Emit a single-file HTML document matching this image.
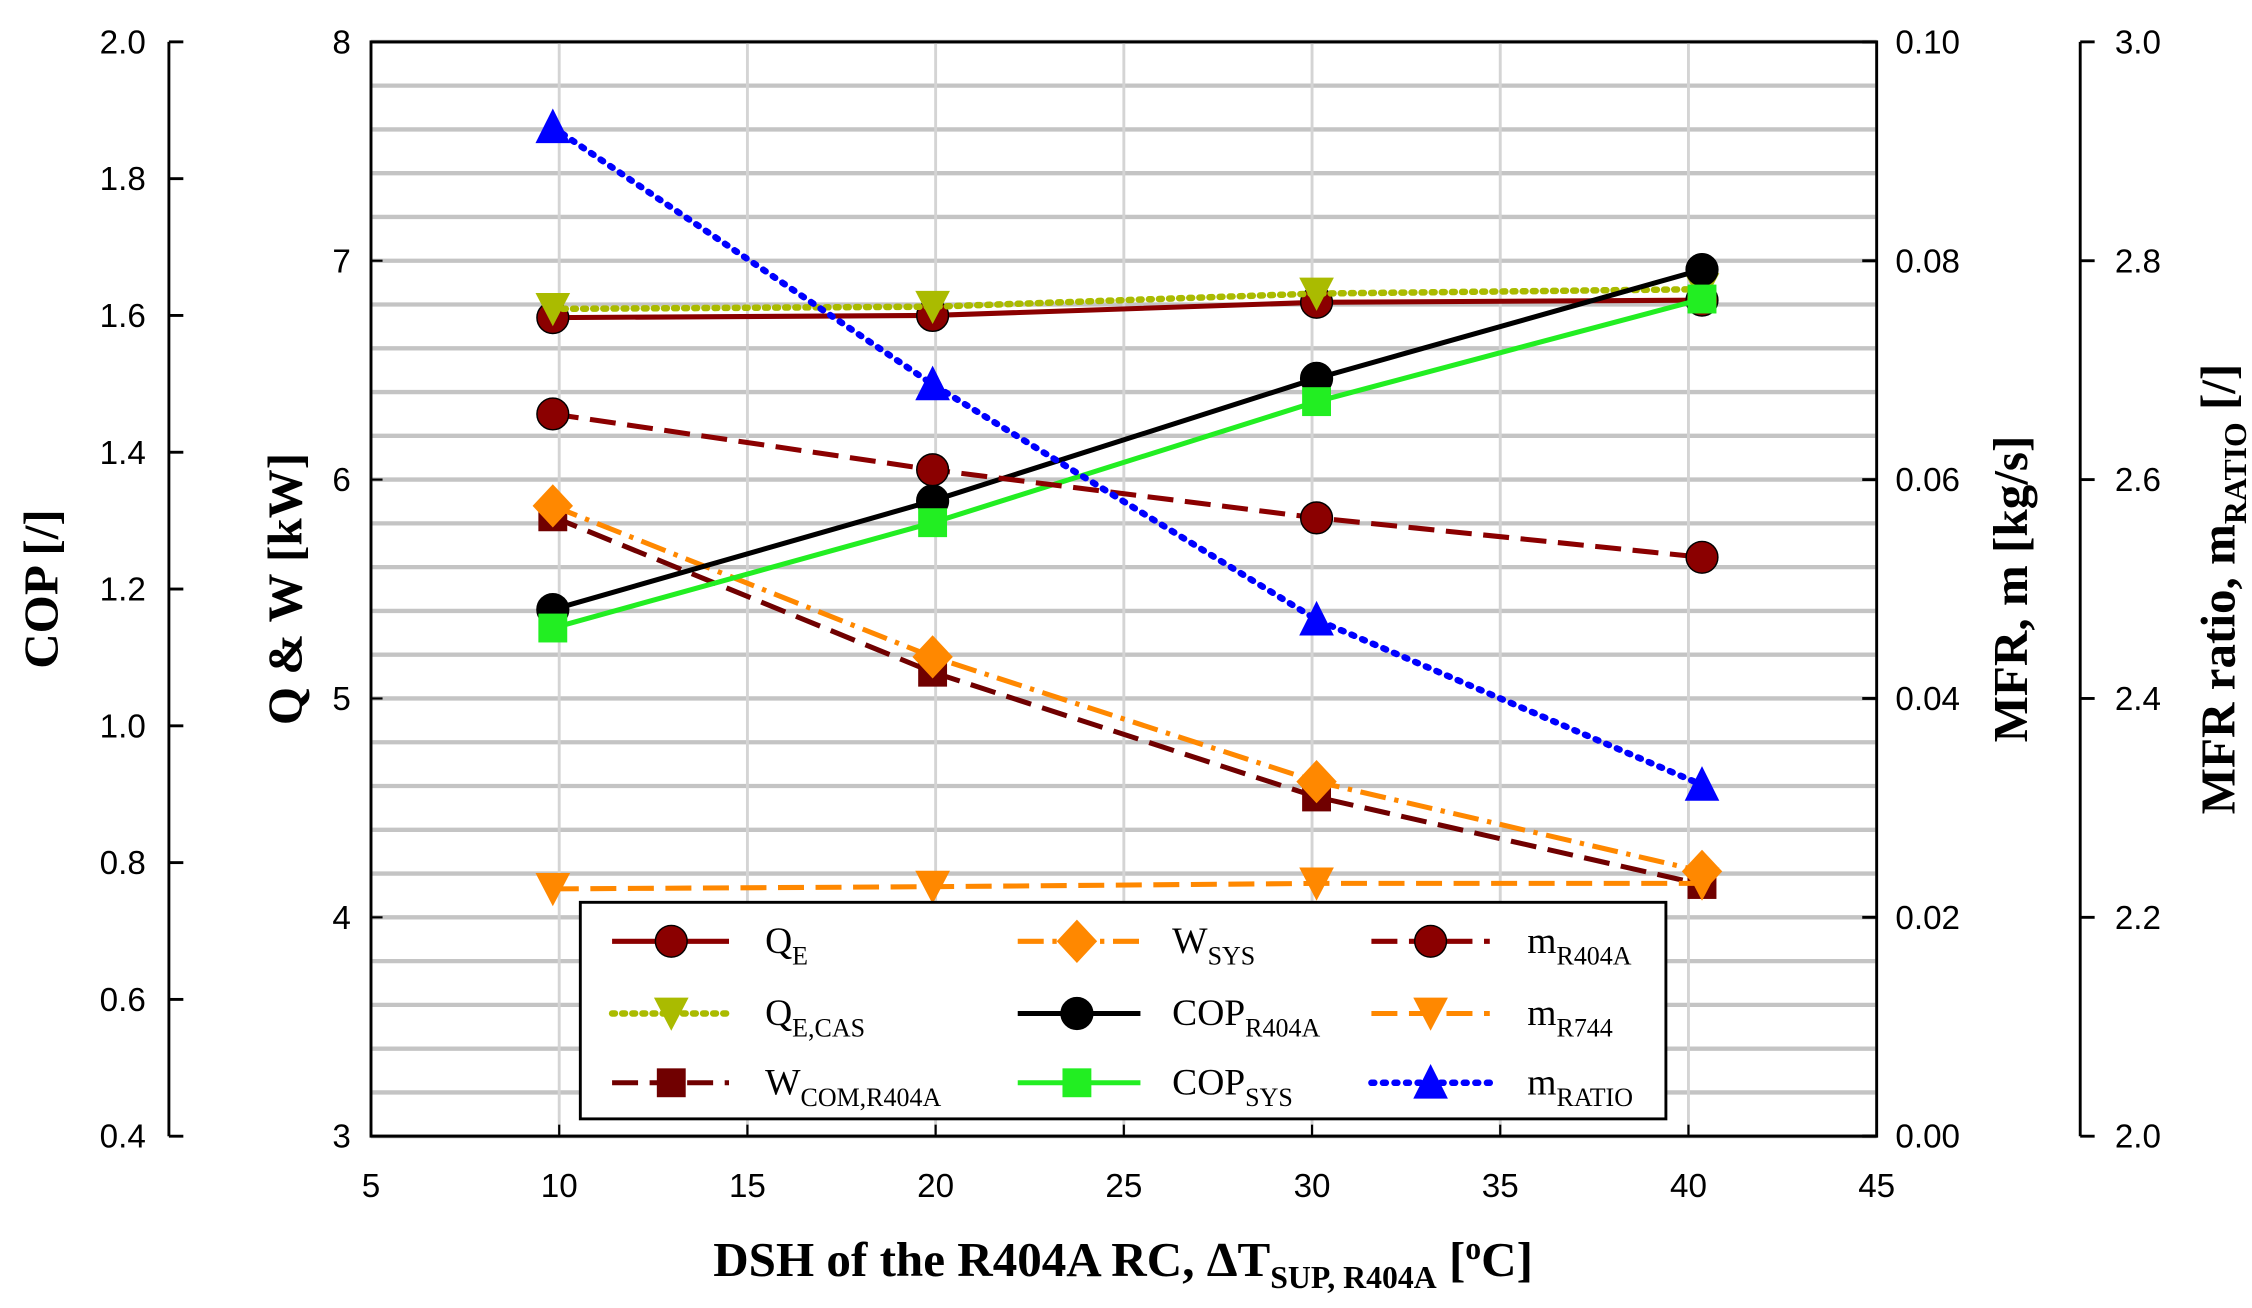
<!DOCTYPE html>
<html><head><meta charset="utf-8"><style>
html,body{margin:0;padding:0;background:#fff}
svg{display:block}
.t{font-family:"Liberation Sans",sans-serif;font-size:23px;fill:#000}
.ti{font-family:"Liberation Serif",serif;font-size:34px;font-weight:bold;fill:#000}
.lg{font-family:"Liberation Serif",serif;font-size:26px;fill:#000}
</style></head><body>
<svg id="c" width="2252" height="1308" viewBox="0 0 1560 906" preserveAspectRatio="none" xmlns="http://www.w3.org/2000/svg">
<g id="grid"></g>
<g id="axes"></g>
<g id="series"></g>
<g id="legend"></g>
</svg>
<script>
const xVals=[9.83,19.92,30.12,40.36];
const qE=[6.74,6.75,6.81,6.82];
const qECas=[6.78,6.79,6.85,6.87];
const wCom=[5.83,5.12,4.55,4.15];
const wSys=[5.88,5.19,4.62,4.21];
const copR404a=[1.170,1.329,1.508,1.667];
const copSys=[1.143,1.297,1.474,1.624];
const mR404a=[0.0660,0.0609,0.0565,0.0529];
const mR744=[0.0226,0.0228,0.0231,0.0231];
const mRatio=[2.922,2.687,2.472,2.321];
const xTicks=[5,10,15,20,25,30,35,40,45];
const qTicks=[3,4,5,6,7,8];
const copTicks=[0.4,0.6,0.8,1.0,1.2,1.4,1.6,1.8,2.0];
const mfrTicks=[0,0.02,0.04,0.06,0.08,0.10];
const ratioTicks=[2.0,2.2,2.4,2.6,2.8,3.0];

const L=257,R=1300,T=29,B=787;
const sx=v=>L+(v-5)/40*(R-L);
const lin=(a,b)=>v=>B-(v-a)/(b-a)*(B-T);
const yQ=lin(3,8),yC=lin(0.4,2.0),yM=lin(0,0.1),yR=lin(2,3);
const NS='http://www.w3.org/2000/svg';
function mk(p,tag,at,txt){const e=document.createElementNS(NS,tag);for(const k in at)e.setAttribute(k,at[k]);if(txt!==undefined)e.textContent=txt;p.appendChild(e);return e;}
const G=document.getElementById('grid'),A=document.getElementById('axes'),S=document.getElementById('series'),LG=document.getElementById('legend');
for(let v=3;v<=8.001;v+=0.2){const y=yQ(v);const l=mk(G,'line',{x1:L,x2:R,y1:y,y2:y,stroke:'#c4c4c4','stroke-width':3});

}
xTicks.forEach(v=>{const l=mk(G,'line',{x1:sx(v),x2:sx(v),y1:T,y2:B,stroke:'#d4d4d4','stroke-width':2});

});
mk(A,'rect',{x:L,y:T,width:R-L,height:B-T,fill:'none',stroke:'#000','stroke-width':2});
xTicks.forEach(v=>{mk(A,'line',{x1:sx(v),x2:sx(v),y1:B,y2:B-8,stroke:'#000','stroke-width':1.5});
const t=mk(A,'text',{x:sx(v),y:B+42,'text-anchor':'middle',class:'t'},String(v));

});
qTicks.forEach(v=>{mk(A,'line',{x1:L,x2:L+8,y1:yQ(v),y2:yQ(v),stroke:'#000','stroke-width':1.5});
const t=mk(A,'text',{x:L-14,y:yQ(v)+8,'text-anchor':'end',class:'t'},String(v));

});
mk(A,'line',{x1:117,x2:117,y1:T,y2:B,stroke:'#000','stroke-width':2});
copTicks.forEach(v=>{mk(A,'line',{x1:117,x2:127,y1:yC(v),y2:yC(v),stroke:'#000','stroke-width':2});
const t=mk(A,'text',{x:101,y:yC(v)+8,'text-anchor':'end',class:'t'},v.toFixed(1));

});
mfrTicks.forEach(v=>{mk(A,'line',{x1:R,x2:R-10,y1:yM(v),y2:yM(v),stroke:'#000','stroke-width':2});
const t=mk(A,'text',{x:1313,y:yM(v)+8,class:'t'},v.toFixed(2));

});
mk(A,'line',{x1:1441,x2:1441,y1:T,y2:B,stroke:'#000','stroke-width':2});
ratioTicks.forEach(v=>{mk(A,'line',{x1:1441,x2:1451,y1:yR(v),y2:yR(v),stroke:'#000','stroke-width':2});
const t=mk(A,'text',{x:1465,y:yR(v)+8,class:'t'},v.toFixed(1));

});
let t;
t=mk(A,'text',{x:40,y:408,'text-anchor':'middle',class:'ti',transform:'rotate(-90 40 408)'},'COP [/]');

t=mk(A,'text',{x:209,y:408,'text-anchor':'middle',class:'ti',transform:'rotate(-90 209 408)'},'Q & W [kW]');

t=mk(A,'text',{x:1404,y:408,'text-anchor':'middle',class:'ti',transform:'rotate(-90 1404 408)'},'MFR, m [kg/s]');

t=mk(A,'text',{x:1548,y:408,'text-anchor':'middle',class:'ti',transform:'rotate(-90 1548 408)'});
t.innerHTML='MFR ratio, m<tspan font-size="22" dy="8">RATIO</tspan><tspan dy="-8"> [/]</tspan>';

t=mk(A,'text',{x:778,y:884,'text-anchor':'middle',class:'ti'});
t.innerHTML='DSH of the R404A RC, ΔT<tspan font-size="22" dy="8">SUP, R404A</tspan><tspan dy="-8"> [</tspan><tspan font-size="22" dy="-12">o</tspan><tspan dy="12">C]</tspan>';


function marker(p,type,x,y,col){
 if(type==='c')return mk(p,'circle',{cx:x,cy:y,r:11,fill:col,stroke:'#000','stroke-width':1});
 if(type==='s')return mk(p,'rect',{x:x-10,y:y-10,width:20,height:20,fill:col});
 if(type==='d')return mk(p,'polygon',{points:`${x},${y-15} ${x+14},${y} ${x},${y+15} ${x-14},${y}`,fill:col});
 if(type==='v')return mk(p,'polygon',{points:`${x-12},${y-11} ${x+12},${y-11} ${x},${y+12}`,fill:col});
 if(type==='^')return mk(p,'polygon',{points:`${x-12},${y+11} ${x+12},${y+11} ${x},${y-13}`,fill:col});
}
const series=[
 {n:'q-e',d:qE,y:yQ,c:'#8b0000',m:'c',dash:'',lab:'Q',sub:'E'},
 {n:'q-e-cas',d:qECas,y:yQ,c:'#aabb00',m:'v',dash:'2 5',lab:'Q',sub:'E,CAS'},
 {n:'w-com-r404a',d:wCom,y:yQ,c:'#700000',m:'s',dash:'18 8',lab:'W',sub:'COM,R404A'},
 {n:'w-sys',d:wSys,y:yQ,c:'#ff8800',m:'d',dash:'18 6 3 6',lab:'W',sub:'SYS'},
 {n:'cop-r404a',d:copR404a,y:yC,c:'#000000',m:'c',dash:'',lab:'COP',sub:'R404A'},
 {n:'cop-sys',d:copSys,y:yC,c:'#22ee22',m:'s',dash:'',lab:'COP',sub:'SYS'},
 {n:'m-r404a',d:mR404a,y:yM,c:'#8b0000',m:'c',dash:'18 8',lab:'m',sub:'R404A'},
 {n:'m-r744',d:mR744,y:yM,c:'#ff8800',m:'v',dash:'18 8',lab:'m',sub:'R744'},
 {n:'m-ratio',d:mRatio,y:yR,c:'#0000ff',m:'^',dash:'2 6',lab:'m',sub:'RATIO'}
];
series.forEach(s=>{
 const g=mk(S,'g',{});
 
 
 const pts=s.d.map((v,i)=>sx(xVals[i])+','+s.y(v)).join(' ');
 const dotted=s.dash.startsWith('2 ');
 mk(g,'polyline',{points:pts,fill:'none',stroke:s.c,'stroke-width':dotted?4.5:3.5,'stroke-dasharray':s.dash,'stroke-linecap':dotted?'round':'butt'});
 s.d.forEach((v,i)=>{const m=marker(g,s.m,sx(xVals[i]),s.y(v),s.c);
 
 });
});
mk(LG,'rect',{x:402,y:625,width:752,height:150,fill:'#fff',stroke:'#000','stroke-width':2});
const cols=[[424,505,465,530],[705,790,746,812],[950,1032,991,1058]];
const rows=[652,702,750];
const order=[[0,1,2],[3,4,5],[6,7,8]];
order.forEach((col,ci)=>col.forEach((si,ri)=>{
 const s=series[si],c=cols[ci],y=rows[ri];
 const g=mk(LG,'g',{});
 
 
 const dotted=s.dash.startsWith('2 ');
 mk(g,'line',{x1:c[0],x2:c[1],y1:y,y2:y,stroke:s.c,'stroke-width':dotted?4.5:3.5,'stroke-dasharray':s.dash,'stroke-linecap':dotted?'round':'butt'});
 marker(g,s.m,c[2],y,s.c);
 const tx=mk(g,'text',{x:c[3],y:y+8,class:'lg'});
 tx.innerHTML=s.lab+'<tspan font-size="18" dy="8">'+s.sub+'</tspan>';
}));
</script>
</body></html>
